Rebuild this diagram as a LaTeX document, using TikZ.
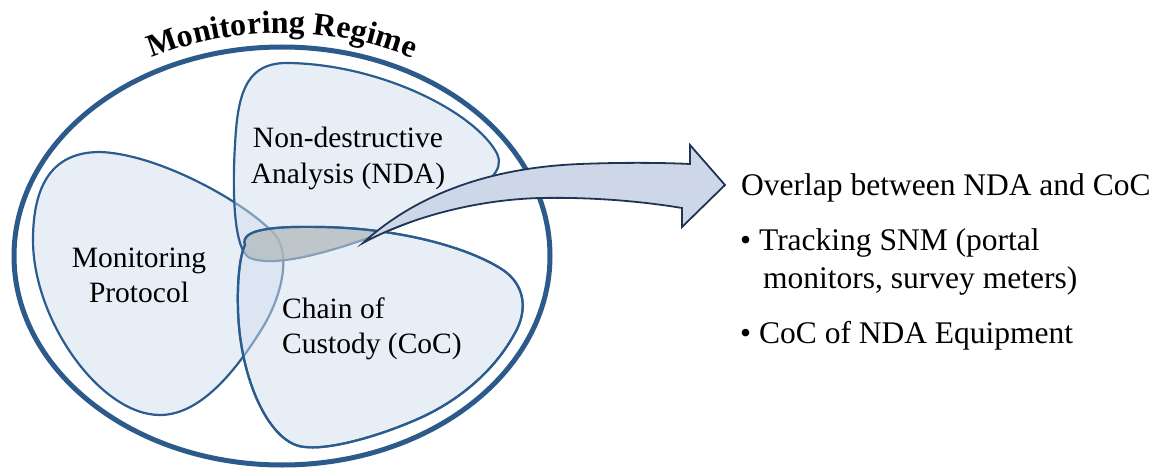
\documentclass[tikz,border=0pt]{standalone}
\usepackage{fontspec}
\setmainfont{Liberation Serif}
\usetikzlibrary{decorations.text}
\definecolor{edgeblue}{HTML}{2A5C90}
\definecolor{ringblue}{HTML}{2C5A8A}
\definecolor{blobfill}{HTML}{D1DDED}
\definecolor{overlapgray}{HTML}{A0A8A5}
\definecolor{arrowfill}{HTML}{CDD7E7}
\definecolor{arrowedge}{HTML}{1F3556}
\newcommand\ttlfnt{\fontsize{32}{32}\selectfont\bfseries}
\begin{document}
\begin{tikzpicture}[x=1pt,y=-1pt,
  blob/.style={draw=edgeblue, line width=2.2pt, fill=blobfill, fill opacity=0.5, line join=round},
  blobedge/.style={draw=edgeblue, line width=2.2pt, line join=round},
  ring/.style={draw=ringblue, line width=5pt},
  lbl/.style={font=\fontsize{29.5}{35}\selectfont, text=black, inner sep=0pt},
  rlbl/.style={font=\fontsize{31.5}{38}\selectfont, text=black, inner sep=0pt, anchor=base west},
  bigarrow/.style={fill=arrowfill, draw=arrowedge, line width=1.8pt, line join=miter}]
\useasboundingbox (0,0) rectangle (1160,468);

% outer ellipse
\draw[ring] (282,256) ellipse [x radius=268, y radius=209];

% title along arc
\path[decorate, decoration={text along path, text={|\ttlfnt|Monitoring Regime}, text align=center}]
  (282,256) ++(-121:282 and 223) arc[start angle=-121, end angle=-59, x radius=282, y radius=223];

% Monitoring Protocol blob
\path[blob] (33,240) .. controls (33,175) and (60,152) .. (100,152)
  .. controls (160,154) and (250,205) .. (276,236)
  .. controls (290,254) and (284,296) .. (258,335)
  .. controls (228,382) and (195,415) .. (160,415)
  .. controls (100,415) and (33,320) .. (33,240) -- cycle;

% NDA blob
\path[blob] (250,258) .. controls (232,250) and (232,180) .. (236,130)
  .. controls (240,80) and (255,62) .. (290,63)
  .. controls (380,65) and (470,110) .. (495,150)
  .. controls (505,165) and (495,178) .. (475,190)
  .. controls (420,222) and (330,255) .. (285,260)
  .. controls (270,262) and (258,261) .. (250,258) -- cycle;

% CoC blob
\path[blob] (245,245) .. controls (240,230) and (270,226) .. (320,227)
  .. controls (400,228) and (470,248) .. (503,270)
  .. controls (525,285) and (528,310) .. (515,333)
  .. controls (495,370) and (460,400) .. (420,418)
  .. controls (380,436) and (330,450) .. (305,447)
  .. controls (270,445) and (240,380) .. (238,310)
  .. controls (237,280) and (240,255) .. (245,245) -- cycle;

% overlap NDA and CoC
\begin{scope}
\clip (250,258) .. controls (232,250) and (232,180) .. (236,130)
  .. controls (240,80) and (255,62) .. (290,63)
  .. controls (380,65) and (470,110) .. (495,150)
  .. controls (505,165) and (495,178) .. (475,190)
  .. controls (420,222) and (330,255) .. (285,260)
  .. controls (270,262) and (258,261) .. (250,258) -- cycle;
\fill[overlapgray, fill opacity=0.5] (245,245) .. controls (240,230) and (270,226) .. (320,227)
  .. controls (400,228) and (470,248) .. (503,270)
  .. controls (525,285) and (528,310) .. (515,333)
  .. controls (495,370) and (460,400) .. (420,418)
  .. controls (380,436) and (330,450) .. (305,447)
  .. controls (270,445) and (240,380) .. (238,310)
  .. controls (237,280) and (240,255) .. (245,245) -- cycle;
\end{scope}
\path[blobedge] (245,245) .. controls (240,230) and (270,226) .. (320,227)
  .. controls (400,228) and (470,248) .. (503,270)
  .. controls (525,285) and (528,310) .. (515,333)
  .. controls (495,370) and (460,400) .. (420,418)
  .. controls (380,436) and (330,450) .. (305,447)
  .. controls (270,445) and (240,380) .. (238,310)
  .. controls (237,280) and (240,255) .. (245,245) -- cycle;

% big curved arrow
\path[bigarrow] (363,243) .. controls (410,200) and (480,168) .. (580,164)
  .. controls (630,162) and (670,163) .. (690,164)
  -- (690,145) -- (725,185) -- (682,227) -- (682,208)
  .. controls (640,201) and (590,197) .. (540,198)
  .. controls (470,200) and (405,220) .. (363,243) -- cycle;

% blob labels
\node[lbl, anchor=base] (nda1) at (348,148) {Non-destructive};
\node[lbl, anchor=base] (nda2) at (348,183) {Analysis (NDA)};
\node[lbl, anchor=base] (mp1) at (139,267) {Monitoring};
\node[lbl, anchor=base] (mp2) at (139,302) {Protocol};
\node[lbl, anchor=base west] (coc1) at (282,318) {Chain of};
\node[lbl, anchor=base west] (coc2) at (282,353) {Custody (CoC)};

% right-hand text
\node[rlbl] (ov) at (741,196) {Overlap between NDA and CoC};
\node[rlbl] (b1) at (740,250) {• Tracking SNM (portal};
\node[rlbl] (b1b) at (763,288) {monitors, survey meters)};
\node[rlbl] (b2) at (740,343) {• CoC of NDA Equipment};
\end{tikzpicture}
\end{document}
